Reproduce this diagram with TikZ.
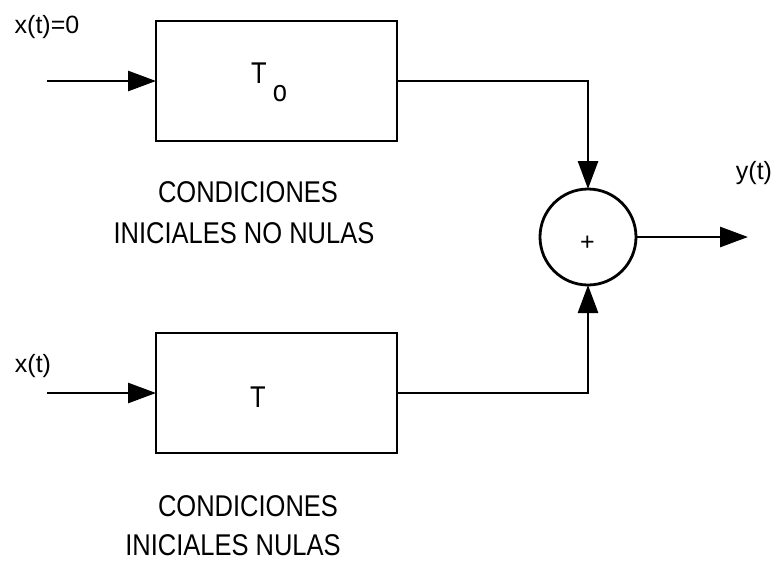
\documentclass[tikz,border=0pt]{standalone}
\usepackage{fontspec}
\setmainfont{Liberation Sans}[FakeStretch=0.85]
\newfontfamily\senalfont{Liberation Sans}
\usepackage{tikz}
\usetikzlibrary{arrows.meta,positioning}

\tikzset{
  bloque/.style={draw,rectangle,minimum width=241pt,minimum height=120pt,inner sep=0pt,outer sep=0pt},
  sumador/.style={draw,circle,minimum size=96pt,inner sep=0pt,outer sep=0pt},
  rotulo/.style={anchor=base,inner sep=0pt,font=\fontsize{30}{36}\selectfont},
  senal/.style={anchor=base,inner sep=0pt,font=\senalfont\fontsize{25}{30}\selectfont}
}

\begin{document}
\begin{tikzpicture}[x=1pt,y=-1pt,>={Triangle[length=28pt,width=20pt]},line width=2.8pt]
    \useasboundingbox (0,0) rectangle (776,563);
    % bloques
    \node[bloque]  (To) at (276.5,81)  {};
    \node[bloque]  (T)  [below=192pt of To] {};
    \node[sumador] (suma) at (588,237) {};
    \node[senal,anchor=center] (mas) at (587.5,243) {+};
    % textos de los bloques
    \node[rotulo] (tTo) at (259,83)  {T};
    \node[rotulo] (oTo) at (280,101) {o};
    \node[rotulo] (tT)  at (258,407) {T};
    \node[rotulo] (c1) at (248,202) {CONDICIONES};
    \node[rotulo] (c2) at (244,243) {INICIALES NO NULAS};
    \node[rotulo] (c3) at (248,516) {CONDICIONES};
    \node[rotulo] (c4) at (233,555) {INICIALES NULAS};
    % entradas y salida
    \coordinate (xo) at (47,81);
    \coordinate (x)  at (47,393);
    \coordinate (y)  at (748,237);
    \node[senal] (lxo) at (47,33)  {x(t)=0};
    \node[senal] (lx)  at (33,372) {x(t)};
    \node[senal] (ly)  at (754,179) {y(t)};
    \draw[->] (xo) -- (To);
    \draw[->] (x) -- (T);
    \draw[->] (To.east) -| (suma.north);
    \draw[->] (T.east) -| (suma.south);
    \draw[->] (suma) -- (y);
\end{tikzpicture}
\end{document}
